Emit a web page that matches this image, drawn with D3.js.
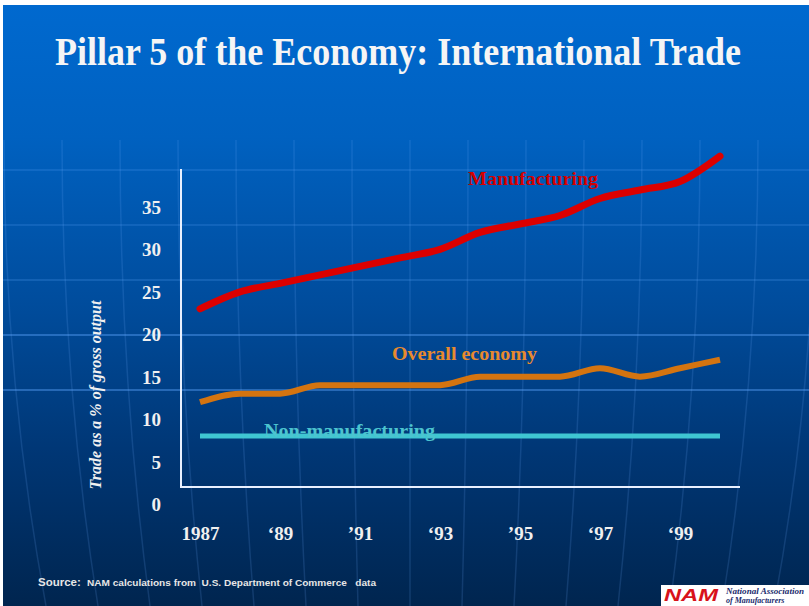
<!DOCTYPE html>
<html>
<head>
<meta charset="utf-8">
<script src="https://cdn.jsdelivr.net/npm/d3@7"></script>
<style>
  html, body { margin: 0; padding: 0; background: #ffffff; }
  svg { display: block; }
</style>
</head>
<body>
<svg id="chart" width="809" height="606"></svg>
<script>
// ---------------- DATA ----------------
const years = [1987, 1988, 1989, 1990, 1991, 1992, 1993, 1994, 1995, 1996, 1997, 1998, 1999, 2000];
const manufacturing = [23, 25, 26, 27, 28, 29, 30, 32, 33, 34, 36, 37, 38, 41];
const overallEconomy = [12, 13, 13, 14, 14, 14, 14, 15, 15, 15, 16, 15, 16, 17];
const nonManufacturing = [8, 8, 8, 8, 8, 8, 8, 8, 8, 8, 8, 8, 8, 8];
const yTicks = [0, 5, 10, 15, 20, 25, 30, 35];
const xTickYears = [1987, 1989, 1991, 1993, 1995, 1997, 1999];
const xTickLabels = ["1987", "\u201889", "\u201991", "\u201893", "\u201995", "\u201897", "\u201899"];
const seriesNames = ["Manufacturing", "Overall economy", "Non-manufacturing"];
const titleText = "Pillar 5 of the Economy: International Trade";
const yAxisTitle = "Trade as a % of gross output";
const sourceLabel = "Source:";
const sourceText = "NAM calculations from  U.S. Department of Commerce   data";

// ---------------- SETUP ----------------
const W = 809, H = 606;
const svg = d3.select("#chart");
const serif = "'Liberation Serif', 'Times New Roman', serif";

const defs = svg.append("defs");
const grad = defs.append("linearGradient").attr("id", "bg").attr("x1", 0).attr("y1", 0).attr("x2", 0).attr("y2", 1);
[[0, "#0069cf"], [0.22, "#0061c0"], [0.5, "#004c9c"], [0.75, "#003674"], [1, "#00254f"]]
  .forEach(([o, c]) => grad.append("stop").attr("offset", o).attr("stop-color", c));

// slide background
svg.append("rect").attr("x", 3).attr("y", 5).attr("width", W - 3).attr("height", H - 5).attr("fill", "url(#bg)");

// globe decoration
const deco = svg.append("g").attr("fill", "none");
[[170, 0.18], [225, 0.18], [280, 0.2], [335, 0.4], [390, 0.4]].forEach(([yy, op]) => {
  deco.append("line").attr("x1", 3).attr("x2", W).attr("y1", yy).attr("y2", yy)
    .attr("stroke", "#5fa8ff").attr("stroke-width", 2).attr("stroke-opacity", op);
});
for (let k = -8; k <= 8; k++) {
  const xt = 410 + k * 58, xb = 410 + k * 52;
  deco.append("path")
    .attr("d", `M${xt},140 Q${(xt + xb) / 2 + k * 3},380 ${xb},606`)
    .attr("stroke", "#6fb0ff").attr("stroke-width", 1.5).attr("stroke-opacity", 0.16);
}

// ---------------- SCALES ----------------
const x = d3.scaleLinear().domain([1987, 2000]).range([200, 720]);
const y = d3.scaleLinear().domain([0, 35]).range([504, 207]);
const frame = { left: 181, top: 169, bottom: 487, right: 740 };

// title
svg.append("text").attr("transform", "translate(398,65) scale(1,1.1)").attr("text-anchor", "middle")
  .attr("font-family", serif).attr("font-weight", "bold").attr("font-size", 35.5)
  .attr("textLength", 686).attr("lengthAdjust", "spacingAndGlyphs")
  .attr("fill", "#f5f5f5").text(titleText);

// axes frame lines
svg.append("line").attr("x1", frame.left).attr("x2", frame.left).attr("y1", frame.top).attr("y2", frame.bottom)
  .attr("stroke", "#e8f0ff").attr("stroke-width", 2);
svg.append("line").attr("x1", frame.left - 1).attr("x2", frame.right).attr("y1", frame.bottom).attr("y2", frame.bottom)
  .attr("stroke", "#e8f0ff").attr("stroke-width", 2);

// Y axis labels
const yAxis = svg.append("g").attr("transform", "translate(161,0)")
  .call(d3.axisLeft(y).tickValues(yTicks).tickSize(0).tickPadding(0).tickFormat(d3.format("d")));
yAxis.select(".domain").remove();
yAxis.selectAll("text").attr("font-family", serif).attr("font-weight", "bold").attr("font-size", 19)
  .attr("fill", "#f0f0f0").attr("dy", "0.34em");

// X axis labels
const xAxis = svg.append("g").attr("transform", "translate(0,526)")
  .call(d3.axisBottom(x).tickValues(xTickYears).tickSize(0).tickPadding(0)
    .tickFormat((d, i) => xTickLabels[i]));
xAxis.select(".domain").remove();
xAxis.selectAll("text").attr("font-family", serif).attr("font-weight", "bold").attr("font-size", 19)
  .attr("fill", "#f0f0f0").attr("dy", "0.71em");

// Y axis title
svg.append("text").attr("transform", "translate(101,395) rotate(-90)").attr("text-anchor", "middle")
  .attr("font-family", serif).attr("font-weight", "bold").attr("font-style", "italic").attr("font-size", 16)
  .attr("fill", "#f0f0f0").text(yAxisTitle);

// ---------------- LINES ----------------
const line = d3.line().x((d, i) => x(years[i])).y(d => y(d)).curve(d3.curveMonotoneX);

svg.append("path").datum(nonManufacturing).attr("d", line).attr("fill", "none")
  .attr("stroke", "#3fc6d2").attr("stroke-width", 5);
svg.append("path").datum(overallEconomy).attr("d", line).attr("fill", "none")
  .attr("stroke", "#d47410").attr("stroke-width", 6).attr("stroke-linejoin", "round");
svg.append("path").datum(manufacturing).attr("d", line).attr("fill", "none")
  .attr("stroke", "#dc0000").attr("stroke-width", 7).attr("stroke-linecap", "round").attr("stroke-linejoin", "round");

// series labels
svg.append("text").attr("x", 468).attr("y", 185).attr("font-family", serif).attr("font-weight", "bold")
  .attr("font-size", 19.5).attr("textLength", 130).attr("lengthAdjust", "spacingAndGlyphs")
  .attr("fill", "#d40000").text(seriesNames[0]);
svg.append("text").attr("x", 392).attr("y", 360).attr("font-family", serif).attr("font-weight", "bold")
  .attr("font-size", 19.5).attr("textLength", 145).attr("lengthAdjust", "spacingAndGlyphs")
  .attr("fill", "#e88a2e").text(seriesNames[1]);
svg.append("text").attr("x", 264).attr("y", 437).attr("font-family", serif).attr("font-weight", "bold")
  .attr("font-size", 19.5).attr("textLength", 171).attr("lengthAdjust", "spacingAndGlyphs")
  .attr("fill", "#4cc4cf").text(seriesNames[2]);

// ---------------- SOURCE ----------------
svg.append("text").attr("x", 38).attr("y", 586).attr("font-family", "'Liberation Sans', Arial, sans-serif")
  .attr("font-weight", "bold").attr("font-size", 11.5).attr("fill", "#e6e6e6").text(sourceLabel);
svg.append("text").attr("x", 87).attr("y", 586)
  .attr("font-family", "'Liberation Sans Narrow', 'Arial Narrow', 'Liberation Sans', sans-serif")
  .attr("font-weight", "bold").attr("font-size", 9.5).attr("fill", "#e6e6e6")
  .attr("textLength", 289).attr("lengthAdjust", "spacingAndGlyphs")
  .attr("xml:space", "preserve").style("white-space", "pre").text(sourceText);

// NAM logo
const logo = svg.append("g");
logo.append("rect").attr("x", 661).attr("y", 585).attr("width", 148).attr("height", 21).attr("fill", "#ffffff");
logo.append("text").attr("x", 664).attr("y", 601).attr("font-family", "'Liberation Sans', Arial, sans-serif")
  .attr("font-weight", "bold").attr("font-style", "italic").attr("font-size", 17).attr("fill", "#d8121b")
  .attr("textLength", 54).attr("lengthAdjust", "spacingAndGlyphs").text("NAM");
logo.append("text").attr("x", 726).attr("y", 594).attr("font-family", "'Liberation Serif', serif")
  .attr("font-weight", "bold").attr("font-style", "italic").attr("font-size", 8).attr("fill", "#1a2a6c")
  .attr("textLength", 78).attr("lengthAdjust", "spacingAndGlyphs")
  .text("National Association");
logo.append("text").attr("x", 726).attr("y", 603).attr("font-family", "'Liberation Serif', serif")
  .attr("font-weight", "bold").attr("font-style", "italic").attr("font-size", 8).attr("fill", "#1a2a6c")
  .text("of Manufacturers");
</script>
</body>
</html>
